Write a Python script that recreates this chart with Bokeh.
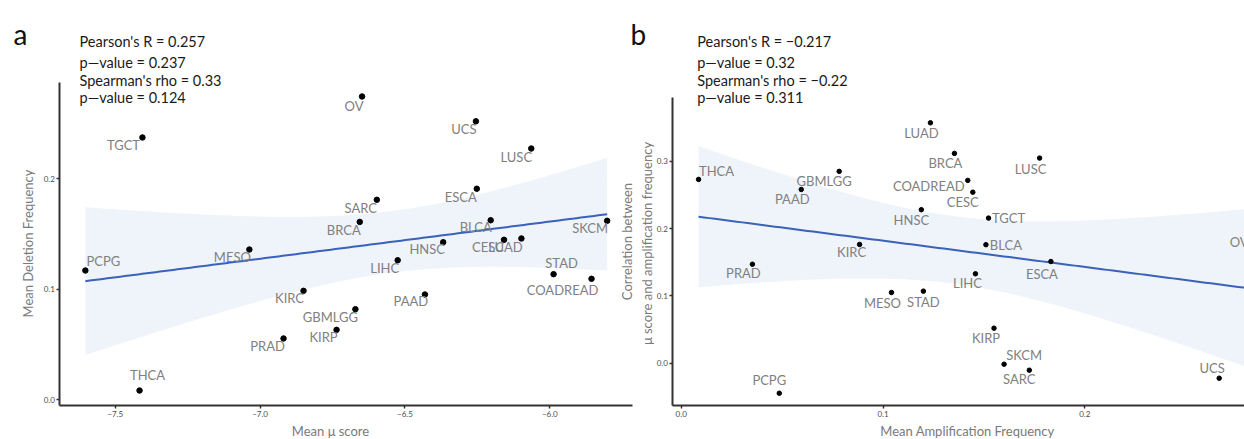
import numpy as np
from bokeh.plotting import figure
from bokeh.models import Range1d, FixedTicker, LinearAxis
from bokeh.core.properties import value
from bokeh.embed import file_html
from bokeh.resources import INLINE

# ---------------- data: panel a ----------------
a_types = ["PCPG", "TGCT", "MESO", "THCA", "KIRC", "PRAD", "OV", "UCS", "LUSC", "ESCA",
           "SARC", "BRCA", "BLCA", "HNSC", "CESC", "LUAD", "SKCM", "LIHC", "STAD",
           "COADREAD", "PAAD", "GBMLGG", "KIRP"]
a_mu = [-7.603, -7.406, -7.037, -7.416, -6.850, -6.919, -6.648, -6.255, -6.064, -6.252,
        -6.597, -6.656, -6.204, -6.368, -6.158, -6.098, -5.802, -6.525, -5.987,
        -5.856, -6.431, -6.671, -6.736]
a_del = [0.117, 0.2374, 0.136, 0.0084, 0.0986, 0.0555, 0.2745, 0.252, 0.2274, 0.191,
         0.181, 0.161, 0.1625, 0.1426, 0.1448, 0.146, 0.162, 0.1263, 0.1137,
         0.1095, 0.0953, 0.082, 0.0633]

# ---------------- data: panel b ----------------
b_types = ["THCA", "GBMLGG", "PAAD", "PRAD", "KIRC", "HNSC", "LUAD", "MESO", "STAD", "PCPG",
           "BRCA", "LUSC", "COADREAD", "CESC", "TGCT", "BLCA", "ESCA", "LIHC", "KIRP",
           "SKCM", "SARC", "UCS", "OV"]
b_amp = [0.0086, 0.0783, 0.0595, 0.0353, 0.0884, 0.119, 0.1235, 0.1042, 0.120, 0.0486,
         0.1354, 0.1776, 0.142, 0.1445, 0.1523, 0.151, 0.1832, 0.1458, 0.155,
         0.160, 0.1725, 0.2666, 0.330]
b_corr = [0.273, 0.2849, 0.258, 0.147, 0.1764, 0.228, 0.357, 0.105, 0.107, -0.0446,
          0.3116, 0.3046, 0.2715, 0.254, 0.2155, 0.176, 0.151, 0.1328, 0.052,
          -0.0015, -0.0104, -0.0223, 0.1456]

a_stats = ["Pearson's R = 0.257", "p\u2014value = 0.237", "Spearman's rho = 0.33", "p\u2014value = 0.124"]
b_stats = ["Pearson's R = \u22120.217", "p\u2014value = 0.32", "Spearman's rho = \u22120.22", "p\u2014value = 0.311"]

a_xtitle = "Mean \u03bc score"
a_ytitle = "Mean Deletion Frequency"
b_xtitle = "Mean Amplification Frequency"
b_ytitle = ["Correlation between", "\u03bc score and amplification frequency"]

a_xticks = [-7.5, -7.0, -6.5, -6.0]
a_xtick_labels = ["\u22127.5", "\u22127.0", "\u22126.5", "\u22126.0"]
a_yticks = [0.0, 0.1, 0.2]
a_ytick_labels = ["0.0", "0.1", "0.2"]
b_xticks = [0.0, 0.1, 0.2]
b_xtick_labels = ["0.0", "0.1", "0.2"]
b_yticks = [0.0, 0.1, 0.2, 0.3]
b_ytick_labels = ["0.0", "0.1", "0.2", "0.3"]

# label offsets in screen pixels (dx right, dy down) from each point
a_off = {"PCPG": (18, -10), "TGCT": (-19, 8), "MESO": (-17, 7), "THCA": (8, -16), "KIRC": (-14, 7),
         "PRAD": (-16, 8), "OV": (-8, 10), "UCS": (-12, 8), "LUSC": (-15, 8), "ESCA": (-16, 8),
         "SARC": (-16, 8), "BRCA": (-16, 8), "BLCA": (-15, 7), "HNSC": (-16, 7), "CESC": (-16, 7),
         "LUAD": (-16, 9), "SKCM": (-17, 7), "LIHC": (-13, 8), "STAD": (8, -11),
         "COADREAD": (-29, 11), "PAAD": (-14, 7), "GBMLGG": (-25, 8), "KIRP": (-13, 7)}
b_off = {"THCA": (18, -8), "GBMLGG": (-15, 10), "PAAD": (-9, 10), "PRAD": (-9, 9), "KIRC": (-8, 8),
         "HNSC": (-10, 10), "LUAD": (-9, 10), "MESO": (-9, 10), "STAD": (0, 11), "PCPG": (-10, -13),
         "BRCA": (-9, 10), "LUSC": (-9, 11), "COADREAD": (-39, 6), "CESC": (-10, 10),
         "TGCT": (20, 0), "BLCA": (20, 0), "ESCA": (-9, 12), "LIHC": (-8, 9), "KIRP": (-8, 10),
         "SKCM": (20, -9), "SARC": (-10, 9), "UCS": (-7, -10), "OV": (-108, -23)}

FONT = "Lato"
LABEL_COLOR = "#808080"
TITLE_COLOR = "#7a7a7a"
LINE_COLOR = "#3a62b8"
BAND_COLOR = "#eff4fa"
T975 = 2.0796  # t quantile, df = 21

W, H = 1244, 439


def lin(p0, v0, p1, v1):
    k = (v1 - v0) / (p1 - p0)
    return lambda px: v0 + (px - p0) * k


# pixel <-> value maps measured from the tick marks of each panel
ax = lin(114.7, -7.5, 549.3, -6.0)
ay = lin(399.3, 0.0, 178.3, 0.2)
bx = lin(680.7, 0.0, 1084.3, 0.2)
by = lin(362.7, 0.0, 160.7, 0.3)

# panel frames (page px): left axis x, bottom axis y, top of y axis, right end of x axis
A_L, A_B, A_T, A_R = 59.3, 405.0, 82.0, 632.0
B_L, B_B, B_T, B_R = 672.3, 405.0, 97.0, 1244.0


def lm_band(xs, ys, n_grid=120):
    xs = np.asarray(xs, float)
    ys = np.asarray(ys, float)
    n = len(xs)
    b, a = np.polyfit(xs, ys, 1)
    grid = np.linspace(xs.min(), xs.max(), n_grid)
    fit = a + b * grid
    resid = ys - (a + b * xs)
    s = np.sqrt(np.sum(resid ** 2) / (n - 2))
    sxx = np.sum((xs - xs.mean()) ** 2)
    se = s * np.sqrt(1.0 / n + (grid - xs.mean()) ** 2 / sxx)
    return grid, fit, fit - T975 * se, fit + T975 * se


p = figure(width=W, height=H, output_backend="svg", toolbar_location=None,
           x_range=Range1d(ax(0), ax(W)), y_range=Range1d(ay(H), ay(0)),
           x_axis_location=None, y_axis_location=None,
           min_border_left=0, min_border_right=0, min_border_top=0, min_border_bottom=0)
p.extra_x_ranges = {"b": Range1d(bx(0), bx(W))}
p.extra_y_ranges = {"b": Range1d(by(H), by(0))}
p.outline_line_color = None
p.xgrid.visible = False
p.ygrid.visible = False
p.background_fill_color = "white"
p.border_fill_color = "white"


def style_axis(axis, ticks, labels):
    axis.ticker = FixedTicker(ticks=ticks)
    axis.major_label_overrides = {t: l for t, l in zip(ticks, labels)}
    axis.minor_tick_line_color = None
    axis.major_tick_in = 0
    axis.major_tick_out = 3
    axis.major_tick_line_color = "#333333"
    axis.major_tick_line_width = 1.5
    axis.axis_line_color = "#333333"
    axis.axis_line_width = 2
    axis.major_label_text_font = FONT
    axis.major_label_text_font_size = "8px"
    axis.major_label_text_color = "#4d4d4d"
    axis.major_label_standoff = 2


def draw_panel(xs, ys, types, offs, upx, upy, dot_size, **rn):
    grid, fit, lo, hi = lm_band(xs, ys)
    p.varea(x=grid, y1=lo, y2=hi, fill_color=BAND_COLOR, fill_alpha=1.0, **rn)
    p.line(grid, fit, line_color=LINE_COLOR, line_width=2, **rn)
    p.scatter(xs, ys, size=dot_size, color="black", **rn)
    lx = [x + offs[t][0] * upx for x, t in zip(xs, types)]
    ly = [y + offs[t][1] * upy for y, t in zip(ys, types)]
    p.text(lx, ly, text=types, text_align="center", text_baseline="middle",
           text_font=value(FONT), text_font_size="13px", text_color=LABEL_COLOR, **rn)


# ---------- panel a ----------
draw_panel(a_mu, a_del, a_types, a_off, ax(1) - ax(0), ay(1) - ay(0), 5.5)
xa = LinearAxis(fixed_location=ay(A_B), bounds=(ax(A_L), ax(A_R)))
style_axis(xa, a_xticks, a_xtick_labels)
p.add_layout(xa, "below")
ya = LinearAxis(fixed_location=ax(A_L), bounds=(ay(A_B), ay(A_T)))
style_axis(ya, a_yticks, a_ytick_labels)
p.add_layout(ya, "left")

# ---------- panel b ----------
draw_panel(b_amp, b_corr, b_types, b_off, bx(1) - bx(0), by(1) - by(0), 4.5,
           x_range_name="b", y_range_name="b")
xb = LinearAxis(x_range_name="b", y_range_name="b", fixed_location=by(B_B),
                bounds=(bx(B_L), bx(B_R + 50)))
style_axis(xb, b_xticks, b_xtick_labels)
p.add_layout(xb, "below")
yb = LinearAxis(x_range_name="b", y_range_name="b", fixed_location=bx(B_L),
                bounds=(by(B_B), by(B_T)))
style_axis(yb, b_yticks, b_ytick_labels)
p.add_layout(yb, "left")

# ---------- free texts (placed by page pixel through panel a's scales) ----------
def put(px, py, txt, size, color, align="left", baseline="alphabetic", angle=0.0):
    p.text([ax(px)], [ay(py)], text=[txt], text_align=align, text_baseline=baseline,
           text_font=value(FONT), text_font_size=size, text_color=color, angle=angle)


baselines = [40.5, 61.5, 80.0, 96.5]
for txt, yy in zip(a_stats, baselines):
    put(79, yy, txt, "14.5px", "#1a1a1a")
for txt, yy in zip(b_stats, baselines):
    put(696.7, yy, txt, "14.5px", "#1a1a1a")

put(13, 33, "a", "28px", "#111111")
put(630, 33, "b", "28px", "#111111")

put(330, 430, a_xtitle, "13px", TITLE_COLOR, align="center", baseline="middle")
put(27, 243, a_ytitle, "13px", TITLE_COLOR, align="center", baseline="middle", angle=np.pi / 2)
put(967, 430, b_xtitle, "13px", TITLE_COLOR, align="center", baseline="middle")
put(626, 241, b_ytitle[0], "13px", TITLE_COLOR, align="center", baseline="middle", angle=np.pi / 2)
put(646, 243, b_ytitle[1], "13px", TITLE_COLOR, align="center", baseline="middle", angle=np.pi / 2)

open("out.html", "w").write(file_html(p, INLINE))
